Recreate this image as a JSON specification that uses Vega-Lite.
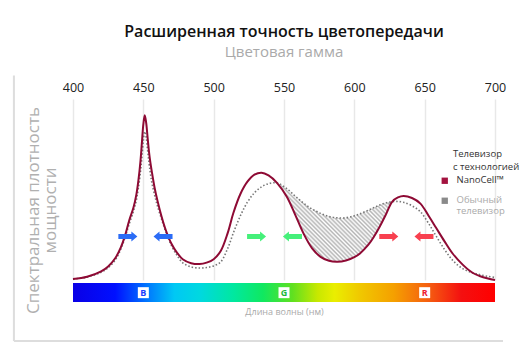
{
  "$schema": "https://vega.github.io/schema/vega-lite/v6.json",
  "autosize": "none",
  "width": 422,
  "height": 181,
  "padding": {"left": 73, "top": 99, "right": 35, "bottom": 72},
  "background": "white",
  "config": {"view": {"stroke": null}, "font": "Open Sans"},
  "title": {
    "text": "Расширенная точность цветопередачи",
    "subtitle": "Цветовая гамма",
    "anchor": "middle",
    "frame": "group",
    "fontSize": 16,
    "fontWeight": 600,
    "color": "#111",
    "subtitleFontSize": 15,
    "subtitleColor": "#aaaaaa",
    "subtitlePadding": 5,
    "offset": 14
  },
  "datasets": {
    "curves": [
      {"nm": 400, "nano": 0.5, "conv": 0.5},
      {"nm": 410, "nano": 1.8, "conv": 1.6},
      {"nm": 420, "nano": 4.8, "conv": 4.3},
      {"nm": 425, "nano": 7.5, "conv": 6.8},
      {"nm": 430, "nano": 12, "conv": 11},
      {"nm": 434, "nano": 18, "conv": 17},
      {"nm": 437, "nano": 24.5, "conv": 23.5},
      {"nm": 440, "nano": 33, "conv": 31},
      {"nm": 443, "nano": 40, "conv": 38},
      {"nm": 445, "nano": 47, "conv": 44},
      {"nm": 446.5, "nano": 55, "conv": 51},
      {"nm": 448, "nano": 66, "conv": 60},
      {"nm": 449, "nano": 76, "conv": 68},
      {"nm": 450, "nano": 86, "conv": 77},
      {"nm": 451, "nano": 91, "conv": 82},
      {"nm": 452, "nano": 87, "conv": 79},
      {"nm": 453, "nano": 79, "conv": 72},
      {"nm": 454, "nano": 71, "conv": 65},
      {"nm": 455, "nano": 65, "conv": 59},
      {"nm": 456, "nano": 60, "conv": 54},
      {"nm": 458, "nano": 51, "conv": 47},
      {"nm": 460, "nano": 44, "conv": 41},
      {"nm": 463, "nano": 35, "conv": 33.5},
      {"nm": 466, "nano": 27.5, "conv": 26.5},
      {"nm": 470, "nano": 20, "conv": 19},
      {"nm": 474, "nano": 15, "conv": 13.5},
      {"nm": 478, "nano": 11.5, "conv": 9.5},
      {"nm": 484, "nano": 9.3, "conv": 7.2},
      {"nm": 490, "nano": 8.8, "conv": 6.6},
      {"nm": 495, "nano": 9.6, "conv": 6.9},
      {"nm": 500, "nano": 11.5, "conv": 7.8},
      {"nm": 505, "nano": 16, "conv": 10},
      {"nm": 510, "nano": 26, "conv": 17.5},
      {"nm": 514, "nano": 37, "conv": 26},
      {"nm": 519, "nano": 47.5, "conv": 35.5},
      {"nm": 524, "nano": 54.3, "conv": 43},
      {"nm": 529, "nano": 58.2, "conv": 48.2},
      {"nm": 534, "nano": 59.3, "conv": 51.5},
      {"nm": 539, "nano": 57.8, "conv": 53.2},
      {"nm": 545, "nano": 53.7, "conv": 53.7},
      {"nm": 552, "nano": 46, "conv": 50.5},
      {"nm": 558, "nano": 36, "conv": 46.3},
      {"nm": 564, "nano": 25.5, "conv": 42.4},
      {"nm": 570, "nano": 17.5, "conv": 39.2},
      {"nm": 576, "nano": 12.8, "conv": 36.8},
      {"nm": 582, "nano": 10.6, "conv": 35.1},
      {"nm": 588, "nano": 10.1, "conv": 34.3},
      {"nm": 594, "nano": 10.8, "conv": 34.4},
      {"nm": 600, "nano": 12.6, "conv": 35.5},
      {"nm": 604, "nano": 14.7, "conv": 36.6},
      {"nm": 610, "nano": 19.5, "conv": 38.6},
      {"nm": 614, "nano": 24, "conv": 40},
      {"nm": 618, "nano": 29.4, "conv": 41.4},
      {"nm": 622, "nano": 35.5, "conv": 42.5},
      {"nm": 627, "nano": 43.3, "conv": 43.3},
      {"nm": 631, "nano": 45.6, "conv": 43.4},
      {"nm": 635, "nano": 46.4, "conv": 42.9},
      {"nm": 641, "nano": 45.3, "conv": 41},
      {"nm": 647, "nano": 42.2, "conv": 37.7},
      {"nm": 653, "nano": 35.2, "conv": 31},
      {"nm": 658, "nano": 29, "conv": 24.5},
      {"nm": 664, "nano": 21.5, "conv": 17},
      {"nm": 670, "nano": 14.5, "conv": 10.8},
      {"nm": 677, "nano": 8.5, "conv": 6.3},
      {"nm": 684, "nano": 4, "conv": 4},
      {"nm": 689, "nano": 2.2, "conv": 3},
      {"nm": 695, "nano": 0.8, "conv": 2},
      {"nm": 700, "nano": 0, "conv": 1.4}
    ],
    "arrows": [
      {"nm": 439, "v": 24, "dir": "right", "band": "B"},
      {"nm": 464, "v": 24, "dir": "left", "band": "B"},
      {"nm": 530.5, "v": 24, "dir": "right", "band": "G"},
      {"nm": 556, "v": 24, "dir": "left", "band": "G"},
      {"nm": 624.5, "v": 24, "dir": "right", "band": "R"},
      {"nm": 649.5, "v": 24, "dir": "left", "band": "R"}
    ],
    "frame": [
      {"x": 358, "x2": 358, "y": 113, "y2": -33.7},
      {"x": 358, "x2": 705.7, "y": -33.7, "y2": -33.7}
    ],
    "spectrum": [
      {"x": 400, "x2": 700, "y": -1.7, "y2": -12.2}
    ],
    "badges": [
      {"nm": 450, "v": -7, "band": "B"},
      {"nm": 550, "v": -7, "band": "G"},
      {"nm": 650, "v": -7, "band": "R"}
    ]
  },
  "resolve": {"axis": {"x": "independent", "y": "independent"}, "scale": {"fill": "independent"}},
  "layer": [
    {
      "data": {"name": "frame"},
      "mark": {"type": "rule", "color": "#dddddd", "strokeWidth": 2},
      "encoding": {
        "x": {"field": "x", "type": "quantitative", "scale": {"domain": [400, 700], "nice": false, "zero": false}, "axis": null},
        "x2": {"field": "x2"},
        "y": {"field": "y", "type": "quantitative", "scale": {"domain": [0, 100], "nice": false, "zero": false}, "axis": null},
        "y2": {"field": "y2"}
      }
    },
    {
      "data": {"name": "spectrum"},
      "mark": {
        "type": "rect",
        "color": {
          "gradient": "linear",
          "x1": 0, "y1": 0, "x2": 1, "y2": 0,
          "stops": [
            {"offset": 0, "color": "#0a00e6"},
            {"offset": 0.1, "color": "#0010ff"},
            {"offset": 0.17, "color": "#0070ff"},
            {"offset": 0.24, "color": "#00c8f4"},
            {"offset": 0.3, "color": "#00d8e0"},
            {"offset": 0.38, "color": "#00e8a0"},
            {"offset": 0.45, "color": "#10e860"},
            {"offset": 0.52, "color": "#60e020"},
            {"offset": 0.58, "color": "#c8e800"},
            {"offset": 0.62, "color": "#eaee00"},
            {"offset": 0.68, "color": "#f0c800"},
            {"offset": 0.76, "color": "#f5a000"},
            {"offset": 0.84, "color": "#f56010"},
            {"offset": 0.92, "color": "#f41010"},
            {"offset": 1, "color": "#ff0000"}
          ]
        }
      },
      "encoding": {
        "x": {
          "field": "x", "type": "quantitative",
          "axis": {
            "orient": "bottom", "title": "Длина волны (нм)", "labels": false, "ticks": false,
            "domain": false, "grid": false, "titleFontSize": 9, "titleFontWeight": "normal",
            "titleColor": "#aaaaaa", "titlePadding": 27
          }
        },
        "x2": {"field": "x2"},
        "y": {"field": "y", "type": "quantitative", "axis": null},
        "y2": {"field": "y2"}
      }
    },
    {
      "data": {"name": "badges"},
      "mark": {"type": "point", "shape": "square", "filled": true, "color": "white", "size": 121, "opacity": 1},
      "encoding": {
        "x": {"field": "nm", "type": "quantitative", "axis": null},
        "y": {"field": "v", "type": "quantitative", "axis": null}
      }
    },
    {
      "data": {"name": "badges"},
      "mark": {"type": "text", "fontSize": 9, "fontWeight": "bold", "baseline": "middle", "align": "center"},
      "encoding": {
        "x": {"field": "nm", "type": "quantitative", "axis": null},
        "y": {"field": "v", "type": "quantitative", "axis": null},
        "text": {"field": "band"},
        "fill": {"field": "band", "type": "nominal", "scale": {"domain": ["B", "G", "R"], "range": ["#1a40ff", "#19b83a", "#ee2030"]}, "legend": null}
      }
    },
    {
      "data": {"name": "curves"},
      "transform": [{"filter": "datum.nm >= 545 && datum.nm <= 627"}],
      "mark": {
        "type": "area", "interpolate": "catmull-rom",
        "color": {
          "gradient": "linear", "x1": 0, "y1": 1, "x2": 1, "y2": 0.317,
          "stops": [
            {"offset": 0, "color": "#b4b4b4"}, {"offset": 0.0125, "color": "#ffffff"},
            {"offset": 0.025, "color": "#b4b4b4"}, {"offset": 0.0375, "color": "#ffffff"},
            {"offset": 0.05, "color": "#b4b4b4"}, {"offset": 0.0625, "color": "#ffffff"},
            {"offset": 0.075, "color": "#b4b4b4"}, {"offset": 0.0875, "color": "#ffffff"},
            {"offset": 0.1, "color": "#b4b4b4"}, {"offset": 0.1125, "color": "#ffffff"},
            {"offset": 0.125, "color": "#b4b4b4"}, {"offset": 0.1375, "color": "#ffffff"},
            {"offset": 0.15, "color": "#b4b4b4"}, {"offset": 0.1625, "color": "#ffffff"},
            {"offset": 0.175, "color": "#b4b4b4"}, {"offset": 0.1875, "color": "#ffffff"},
            {"offset": 0.2, "color": "#b4b4b4"}, {"offset": 0.2125, "color": "#ffffff"},
            {"offset": 0.225, "color": "#b4b4b4"}, {"offset": 0.2375, "color": "#ffffff"},
            {"offset": 0.25, "color": "#b4b4b4"}, {"offset": 0.2625, "color": "#ffffff"},
            {"offset": 0.275, "color": "#b4b4b4"}, {"offset": 0.2875, "color": "#ffffff"},
            {"offset": 0.3, "color": "#b4b4b4"}, {"offset": 0.3125, "color": "#ffffff"},
            {"offset": 0.325, "color": "#b4b4b4"}, {"offset": 0.3375, "color": "#ffffff"},
            {"offset": 0.35, "color": "#b4b4b4"}, {"offset": 0.3625, "color": "#ffffff"},
            {"offset": 0.375, "color": "#b4b4b4"}, {"offset": 0.3875, "color": "#ffffff"},
            {"offset": 0.4, "color": "#b4b4b4"}, {"offset": 0.4125, "color": "#ffffff"},
            {"offset": 0.425, "color": "#b4b4b4"}, {"offset": 0.4375, "color": "#ffffff"},
            {"offset": 0.45, "color": "#b4b4b4"}, {"offset": 0.4625, "color": "#ffffff"},
            {"offset": 0.475, "color": "#b4b4b4"}, {"offset": 0.4875, "color": "#ffffff"},
            {"offset": 0.5, "color": "#b4b4b4"}, {"offset": 0.5125, "color": "#ffffff"},
            {"offset": 0.525, "color": "#b4b4b4"}, {"offset": 0.5375, "color": "#ffffff"},
            {"offset": 0.55, "color": "#b4b4b4"}, {"offset": 0.5625, "color": "#ffffff"},
            {"offset": 0.575, "color": "#b4b4b4"}, {"offset": 0.5875, "color": "#ffffff"},
            {"offset": 0.6, "color": "#b4b4b4"}, {"offset": 0.6125, "color": "#ffffff"},
            {"offset": 0.625, "color": "#b4b4b4"}, {"offset": 0.6375, "color": "#ffffff"},
            {"offset": 0.65, "color": "#b4b4b4"}, {"offset": 0.6625, "color": "#ffffff"},
            {"offset": 0.675, "color": "#b4b4b4"}, {"offset": 0.6875, "color": "#ffffff"},
            {"offset": 0.7, "color": "#b4b4b4"}, {"offset": 0.7125, "color": "#ffffff"},
            {"offset": 0.725, "color": "#b4b4b4"}, {"offset": 0.7375, "color": "#ffffff"},
            {"offset": 0.75, "color": "#b4b4b4"}, {"offset": 0.7625, "color": "#ffffff"},
            {"offset": 0.775, "color": "#b4b4b4"}, {"offset": 0.7875, "color": "#ffffff"},
            {"offset": 0.8, "color": "#b4b4b4"}, {"offset": 0.8125, "color": "#ffffff"},
            {"offset": 0.825, "color": "#b4b4b4"}, {"offset": 0.8375, "color": "#ffffff"},
            {"offset": 0.85, "color": "#b4b4b4"}, {"offset": 0.8625, "color": "#ffffff"},
            {"offset": 0.875, "color": "#b4b4b4"}, {"offset": 0.8875, "color": "#ffffff"},
            {"offset": 0.9, "color": "#b4b4b4"}, {"offset": 0.9125, "color": "#ffffff"},
            {"offset": 0.925, "color": "#b4b4b4"}, {"offset": 0.9375, "color": "#ffffff"},
            {"offset": 0.95, "color": "#b4b4b4"}, {"offset": 0.9625, "color": "#ffffff"},
            {"offset": 0.975, "color": "#b4b4b4"}, {"offset": 0.9875, "color": "#ffffff"},
            {"offset": 1, "color": "#b4b4b4"}
          ]
        }
      },
      "encoding": {
        "x": {
          "field": "nm", "type": "quantitative",
          "axis": {
            "orient": "top", "values": [400, 450, 500, 550, 600, 650, 700], "grid": true,
            "gridColor": "#e8e8e8", "gridWidth": 1.5, "domain": false, "ticks": false,
            "labelPadding": 5, "labelFontSize": 12.5, "labelColor": "#222222", "title": null, "labelFlush": false
          }
        },
        "y": {
          "field": "conv", "type": "quantitative",
          "axis": {
            "orient": "left",
            "title": ["Спектральная плотность", "мощности"], "labels": false, "ticks": false,
            "domain": false, "grid": false, "titleFontSize": 17, "titleFontWeight": "normal",
            "titleColor": "#b0b0b0", "titlePadding": 14, "titleLineHeight": 17, "titleY": 111
          }
        },
        "y2": {"field": "nano"}
      }
    },
    {
      "data": {"name": "curves"},
      "mark": {"type": "line", "interpolate": "catmull-rom", "strokeDash": [1.5, 2], "strokeWidth": 1.6},
      "encoding": {
        "x": {"field": "nm", "type": "quantitative", "axis": null},
        "y": {"field": "conv", "type": "quantitative", "axis": null},
        "color": {"datum": "conv"}
      }
    },
    {
      "data": {"name": "curves"},
      "mark": {"type": "line", "interpolate": "catmull-rom", "strokeWidth": 2},
      "encoding": {
        "x": {"field": "nm", "type": "quantitative", "axis": null},
        "y": {"field": "nano", "type": "quantitative", "axis": null},
        "color": {
          "datum": "nano",
          "scale": {"domain": ["nano", "conv"], "range": ["#8e0a34", "#777777"]},
          "legend": {
            "orient": "none", "legendX": 367, "legendY": 50, "padding": 0,
            "title": ["Телевизор", "с технологией"], "titleFontSize": 9.5, "titleFontWeight": "normal",
            "titleColor": "#333333", "titleLineHeight": 12.5, "titlePadding": 5,
            "symbolType": "square", "symbolSize": 40, "symbolStrokeWidth": 0,
            "labelFontSize": 9.5, "labelOffset": 7, "labelLineHeight": 12.5, "rowPadding": 9,
            "labelExpr": "datum.value === 'nano' ? 'NanoCell™' : ['Обычный', 'телевизор']",
            "encode": {
              "title": {"update": {"dx": {"value": 13}}},
              "symbols": {"update": {"fill": {"signal": "datum.value === 'nano' ? '#a3123f' : '#8a8a8a'"}, "strokeWidth": {"value": 0}}},
              "labels": {"update": {"fill": {"signal": "datum.value === 'nano' ? '#333333' : '#aaaaaa'"}, "baseline": {"value": "top"}, "dy": {"value": -6}}}
            }
          }
        }
      }
    },
    {
      "data": {"name": "arrows"},
      "mark": {"type": "point", "filled": true, "size": 361, "opacity": 1, "strokeWidth": 0},
      "encoding": {
        "x": {"field": "nm", "type": "quantitative", "axis": null},
        "y": {"field": "v", "type": "quantitative", "axis": null},
        "shape": {
          "field": "dir", "type": "nominal", "legend": null,
          "scale": {"domain": ["right", "left"], "range": ["M-1,-0.26L0.37,-0.26L0.37,-0.53L1,0L0.37,0.53L0.37,0.26L-1,0.26Z", "M1,-0.26L-0.37,-0.26L-0.37,-0.53L-1,0L-0.37,0.53L-0.37,0.26L1,0.26Z"]}
        },
        "fill": {"field": "band", "type": "nominal", "legend": null, "scale": {"domain": ["B", "G", "R"], "range": ["#2b6cf6", "#45f07a", "#f8404f"]}}
      }
    }
  ]
}
